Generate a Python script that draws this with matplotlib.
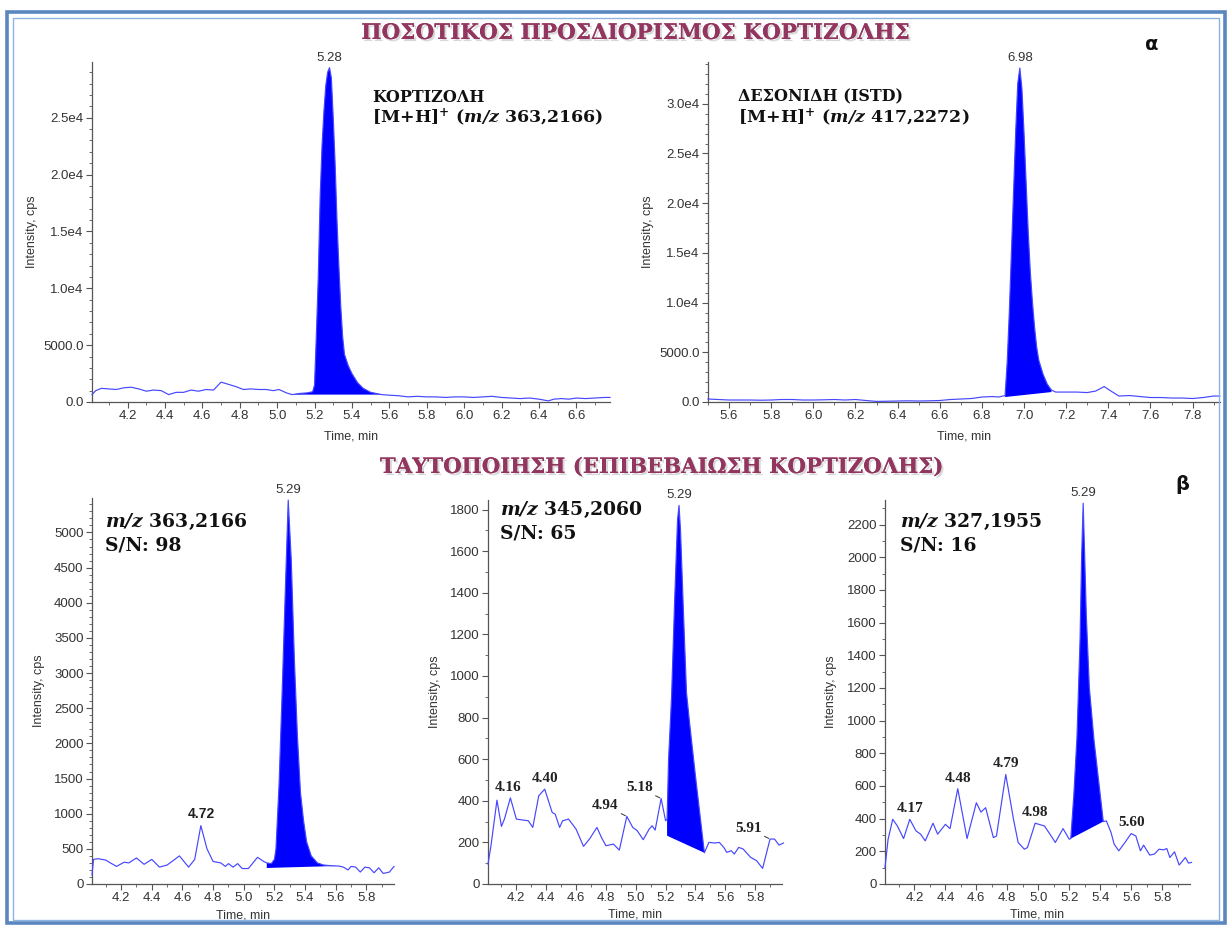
import numpy as np
import matplotlib
matplotlib.use("Agg")
import matplotlib.pyplot as plt
from matplotlib.ticker import MultipleLocator, FuncFormatter
from matplotlib.patches import Rectangle
import matplotlib.patheffects as pe

plt.rcParams['font.family'] = ['Liberation Sans', 'DejaVu Sans']
plt.rcParams['mathtext.fontset'] = 'dejavuserif'

# ---------------- data ----------------
# (a) top-left: cortisol m/z 363,2166
tl_time = [4.01, 4.03, 4.06, 4.10, 4.14, 4.18, 4.22, 4.26, 4.30, 4.34, 4.38, 4.42, 4.46, 4.50,
           4.54, 4.58, 4.62, 4.66, 4.70, 4.74, 4.78, 4.82, 4.86, 4.90, 4.94, 4.98, 5.01, 5.05,
           5.08, 5.12, 5.16, 5.19, 5.20, 5.21, 5.22, 5.23, 5.24, 5.25, 5.26, 5.27, 5.28, 5.29,
           5.30, 5.31, 5.32, 5.33, 5.34, 5.35, 5.36, 5.38, 5.40, 5.43, 5.46, 5.50, 5.56, 5.60,
           5.65, 5.70, 5.75, 5.80, 5.85, 5.90, 5.95, 6.00, 6.05, 6.10, 6.15, 6.20, 6.25, 6.30,
           6.35, 6.40, 6.45, 6.48, 6.52, 6.56, 6.60, 6.65, 6.70, 6.75, 6.78]
tl_int = [650, 1000, 1200, 1150, 1100, 1250, 1300, 1150, 950, 1050, 1000, 650, 850, 850,
          1050, 950, 1100, 1050, 1750, 1550, 1350, 1100, 1150, 1100, 1100, 1000, 1100, 800,
          650, 750, 800, 900, 1500, 6000, 11000, 18000, 22500, 25500, 27800, 29000, 29400, 28500,
          25000, 21000, 16000, 12000, 8500, 5800, 4200, 3200, 2500, 1700, 1200, 850, 650, 600,
          550, 450, 500, 450, 450, 400, 450, 450, 400, 450, 500, 400, 350, 300,
          350, 250, 100, 250, 300, 250, 350, 300, 350, 400, 400]

# (a) top-right: desonide ISTD m/z 417,2272
tr_time = [5.50, 5.55, 5.60, 5.65, 5.70, 5.75, 5.80, 5.85, 5.90, 5.95, 6.00, 6.05, 6.10, 6.15,
           6.20, 6.25, 6.30, 6.35, 6.40, 6.45, 6.50, 6.55, 6.60, 6.65, 6.70, 6.75, 6.80, 6.85,
           6.88, 6.91, 6.92, 6.93, 6.94, 6.95, 6.96, 6.97, 6.98, 6.99, 7.00, 7.01, 7.02, 7.03,
           7.04, 7.05, 7.06, 7.07, 7.09, 7.11, 7.13, 7.15, 7.20, 7.25, 7.30, 7.34, 7.38, 7.42,
           7.45, 7.50, 7.55, 7.60, 7.65, 7.70, 7.75, 7.80, 7.85, 7.90, 7.93]
tr_int = [300, 250, 200, 200, 200, 180, 200, 250, 250, 200, 200, 220, 250, 200,
          250, 150, 60, 80, 100, 120, 100, 120, 150, 250, 300, 350, 500, 550,
          500, 650, 4000, 9000, 15000, 21000, 27000, 32000, 33600, 31500, 27000, 22000, 17000, 13000,
          10000, 7500, 5500, 4200, 2800, 1800, 1200, 1000, 1000, 1000, 950, 1100, 1550, 1000,
          600, 650, 550, 450, 450, 400, 400, 350, 450, 600, 600]

# (b) bottom-left: m/z 363,2166
bl_time = [4.01, 4.02, 4.05, 4.10, 4.13, 4.17, 4.22, 4.25, 4.30, 4.35, 4.40, 4.45, 4.50, 4.55,
           4.58, 4.64, 4.68, 4.72, 4.76, 4.80, 4.85, 4.88, 4.90, 4.93, 4.96, 4.99, 5.03, 5.06,
           5.09, 5.13, 5.15, 5.18, 5.20, 5.21, 5.23, 5.25, 5.27, 5.29, 5.31, 5.33, 5.35, 5.37,
           5.39, 5.41, 5.44, 5.48, 5.52, 5.57, 5.62, 5.65, 5.68, 5.70, 5.73, 5.76, 5.79, 5.82,
           5.85, 5.88, 5.91, 5.95, 5.98]
bl_int = [130, 350, 360, 340, 300, 250, 310, 300, 370, 280, 350, 240, 270, 350,
          400, 240, 350, 830, 500, 320, 300, 250, 290, 240, 290, 220, 220, 300,
          380, 320, 300, 290, 350, 500, 1400, 2700, 4100, 5460, 4600, 3200, 2100, 1300,
          900, 600, 400, 300, 270, 260, 255, 240, 200, 250, 240, 170, 240, 230,
          160, 230, 150, 170, 250]

# (b) bottom-middle: m/z 345,2060
bm_time = [4.01, 4.03, 4.07, 4.10, 4.12, 4.16, 4.20, 4.25, 4.28, 4.31, 4.35, 4.39, 4.44, 4.46,
           4.49, 4.51, 4.55, 4.60, 4.65, 4.69, 4.74, 4.77, 4.80, 4.85, 4.89, 4.94, 4.98, 5.01,
           5.05, 5.09, 5.11, 5.13, 5.17, 5.20, 5.21, 5.22, 5.24, 5.26, 5.28, 5.29, 5.30, 5.32,
           5.34, 5.36, 5.40, 5.46, 5.49, 5.53, 5.56, 5.59, 5.61, 5.64, 5.66, 5.69, 5.72, 5.77,
           5.81, 5.85, 5.90, 5.93, 5.96, 5.99]
bm_int = [96, 184, 403, 277, 312, 414, 312, 307, 304, 272, 424, 456, 344, 336,
          272, 304, 312, 264, 181, 216, 272, 224, 184, 192, 163, 325, 272, 256,
          213, 264, 280, 259, 411, 304, 312, 600, 900, 1350, 1750, 1820, 1700, 1300,
          920, 780, 520, 150, 200, 197, 200, 176, 152, 160, 144, 176, 168, 128,
          112, 75, 216, 216, 187, 197]

# (b) bottom-right: m/z 327,1955
br_time = [4.01, 4.03, 4.06, 4.09, 4.13, 4.17, 4.21, 4.24, 4.27, 4.32, 4.35, 4.40, 4.43, 4.48,
           4.54, 4.60, 4.63, 4.66, 4.71, 4.73, 4.79, 4.84, 4.87, 4.91, 4.93, 4.98, 5.04, 5.09,
           5.11, 5.16, 5.20, 5.21, 5.23, 5.25, 5.27, 5.28, 5.29, 5.30, 5.31, 5.33, 5.36, 5.42,
           5.44, 5.47, 5.49, 5.52, 5.56, 5.60, 5.63, 5.66, 5.68, 5.72, 5.75, 5.78, 5.81, 5.83,
           5.85, 5.88, 5.91, 5.95, 5.97, 5.99]
br_int = [100, 274, 396, 355, 278, 396, 325, 305, 264, 372, 305, 365, 339, 583,
          278, 497, 440, 467, 284, 294, 670, 396, 254, 213, 223, 372, 355, 284,
          254, 339, 274, 278, 550, 900, 1500, 2000, 2330, 2000, 1650, 1200, 880, 382,
          386, 315, 244, 203, 254, 309, 294, 203, 238, 177, 183, 213, 209, 217,
          162, 197, 116, 162, 128, 132]

# integrated peak: (start, end, baseline at start, baseline at end)
tl_fill = [5.08, 5.56, 650, 650]
tr_fill = [6.91, 7.13, 500, 1000]
bl_fill = [5.15, 5.62, 228, 257]
bm_fill = [5.21, 5.46, 232, 150]
br_fill = [5.21, 5.42, 278, 382]

# ---------------- style ----------------
W, H = 1228, 925
fig = plt.figure(figsize=(W / 100, H / 100), dpi=100)
fig.patch.set_facecolor('white')

LINE = '#4646ff'
FILL = '#0000ff'
AXC = '#555555'
TXT = '#333333'
TITLE_C = '#93365f'


def px_axes(left, right, top, bottom):
    return fig.add_axes([left / W, (H - bottom) / H, (right - left) / W, (bottom - top) / H])


def style_axes(ax, xlim, ylim, xmaj, xmin_, ymaj, ymin_, yfmt, ylab_x, xlab_y):
    ax.set_xlim(*xlim)
    ax.set_ylim(*ylim)
    for s in ['top', 'right']:
        ax.spines[s].set_visible(False)
    for s in ['left', 'bottom']:
        ax.spines[s].set_color(AXC)
        ax.spines[s].set_linewidth(0.9)
    ax.xaxis.set_major_locator(MultipleLocator(xmaj))
    ax.xaxis.set_minor_locator(MultipleLocator(xmin_))
    ax.yaxis.set_major_locator(MultipleLocator(ymaj))
    ax.yaxis.set_minor_locator(MultipleLocator(ymin_))
    ax.xaxis.set_major_formatter(FuncFormatter(lambda v, p: f"{v:.1f}"))
    ax.yaxis.set_major_formatter(FuncFormatter(yfmt))
    ax.tick_params(which='major', length=4, width=0.8, color=AXC, labelsize=9.5,
                   labelcolor=TXT, pad=2)
    ax.tick_params(which='minor', length=2, width=0.6, color=AXC)
    ax.set_ylabel("Intensity, cps", fontsize=9, color=TXT)
    ax.yaxis.set_label_coords(ylab_x, 0.5)
    ax.set_xlabel("Time, min", fontsize=9, color=TXT)
    ax.xaxis.set_label_coords(0.5, xlab_y)
    ax.patch.set_alpha(0)


def fmt_e4(v, p):
    if abs(v) < 1e-9:
        return "0.0"
    if v < 1e4:
        return f"{v:.1f}"
    return f"{v / 1e4:.1f}e4"


def fmt_int(v, p):
    return f"{v:.0f}"


def draw_trace(ax, t, y, fill):
    t = np.asarray(t)
    y = np.asarray(y)
    ax.plot(t, y, color=LINE, lw=0.85, zorder=3, clip_on=False)
    s, e, b0, b1 = fill
    m = (t >= s - 1e-9) & (t <= e + 1e-9)
    px = list(t[m]) + [e, s]
    py = list(y[m]) + [b1, b0]
    ax.fill(px, py, color=FILL, lw=0, zorder=2)


def top_label(ax, x, y, s, dy=3):
    ax.annotate(s, (x, y), xytext=(0, dy), textcoords='offset points', ha='center',
                va='bottom', fontsize=9.5, color=TXT, annotation_clip=False)


def serif_label(ax, x, y, s, dy=3):
    ax.annotate(s, (x, y), xytext=(0, dy), textcoords='offset points', ha='center',
                va='bottom', fontsize=11, color='#222222', fontweight='bold',
                family='Liberation Serif', annotation_clip=False)


def lead_label(ax, x, y, s, dx, dy):
    ax.annotate(s, (x, y), xytext=(dx, dy), textcoords='offset points', ha='right',
                va='bottom', fontsize=11, color='#222222', fontweight='bold',
                family='Liberation Serif', annotation_clip=False,
                arrowprops=dict(arrowstyle='-', lw=0.7, color='#333333',
                                shrinkA=0, shrinkB=1))


# ---------------- frame ----------------
fig.patches.append(Rectangle((7 / W, 2 / H), (1225 - 7) / W, (923 - 12) / H, transform=fig.transFigure,
                             fill=False, ec='#5b87c0', lw=2.6, zorder=0))
fig.patches.append(Rectangle((13 / W, 5 / H), (1219 - 13) / W, (920 - 18) / H, transform=fig.transFigure,
                             fill=False, ec='#8fb3df', lw=1.0, zorder=0))

# ---------------- titles ----------------
shadow = [pe.withSimplePatchShadow(offset=(1.5, -1.5), shadow_rgbFace='#aaaaaa', alpha=0.45), pe.Normal()]
fig.text(635 / W, 1 - 33 / H, "ΠΟΣΟΤΙΚΟΣ ΠΡΟΣΔΙΟΡΙΣΜΟΣ ΚΟΡΤΙΖΟΛΗΣ", ha='center', va='center',
         fontsize=15.5, fontweight='bold', family='DejaVu Serif', color=TITLE_C, path_effects=shadow)
fig.text(662 / W, 1 - 467 / H, "ΤΑΥΤΟΠΟΙΗΣΗ (ΕΠΙΒΕΒΑΙΩΣΗ ΚΟΡΤΙΖΟΛΗΣ)", ha='center', va='center',
         fontsize=15.3, fontweight='bold', family='DejaVu Serif', color=TITLE_C, path_effects=shadow)
fig.text(1152 / W, 1 - 45 / H, "α", ha='center', va='center', fontsize=14, fontweight='bold',
         family='DejaVu Sans', color='#111111')
fig.text(1182 / W, 1 - 484 / H, "β", ha='center', va='center', fontsize=14, fontweight='bold',
         family='DejaVu Sans', color='#111111')

# ---------------- top-left ----------------
ax1 = px_axes(92, 610, 62, 402)
style_axes(ax1, (4.01, 6.78), (0, 29900), 0.2, 0.1, 5000, 1000, fmt_e4, -0.105, -0.085)
draw_trace(ax1, tl_time, tl_int, tl_fill)
top_label(ax1, 5.28, 29400, "5.28")
ax1.text(372 / W, 1 - 97 / H, "ΚΟΡΤΙΖΟΛΗ", transform=fig.transFigure, ha='left', va='center',
         fontsize=11.5, fontweight='bold', family='DejaVu Serif', color='#111111')
ax1.text(372 / W, 1 - 117 / H, r"[M+H]$^{\mathbf{+}}$ ($\mathbfit{m/z}$ 363,2166)", transform=fig.transFigure,
         ha='left', va='center', fontsize=12.5, fontweight='bold', family='DejaVu Serif', color='#111111')

# ---------------- top-right ----------------
ax2 = px_axes(708, 1220, 62, 402)
style_axes(ax2, (5.5, 7.93), (0, 34200), 0.2, 0.1, 5000, 1000, fmt_e4, -0.105, -0.085)
draw_trace(ax2, tr_time, tr_int, tr_fill)
top_label(ax2, 6.98, 33600, "6.98")
ax2.text(738 / W, 1 - 97 / H, "ΔΕΣΟΝΙΔΗ (ISTD)", transform=fig.transFigure, ha='left', va='center',
         fontsize=11.5, fontweight='bold', family='DejaVu Serif', color='#111111')
ax2.text(738 / W, 1 - 117 / H, r"[M+H]$^{\mathbf{+}}$ ($\mathbfit{m/z}$ 417,2272)", transform=fig.transFigure,
         ha='left', va='center', fontsize=12.5, fontweight='bold', family='DejaVu Serif', color='#111111')

# ---------------- bottom-left ----------------
ax3 = px_axes(92, 394, 498, 884)
style_axes(ax3, (4.01, 5.98), (0, 5490), 0.2, 0.1, 500, 100, fmt_int, -0.155, -0.065)
draw_trace(ax3, bl_time, bl_int, bl_fill)
top_label(ax3, 5.29, 5460, "5.29")
ax3.annotate("4.72", (4.72, 830), xytext=(0, 3), textcoords='offset points', ha='center', va='bottom',
             fontsize=10, fontweight='bold', color='#222222')
ax3.text(105 / W, 1 - 522 / H, r"$\mathbfit{m/z}$ 363,2166", transform=fig.transFigure, ha='left',
         va='center', fontsize=13.5, fontweight='bold', family='DejaVu Serif', color='#111111')
ax3.text(105 / W, 1 - 546 / H, "S/N: 98", transform=fig.transFigure, ha='left',
         va='center', fontsize=13.5, fontweight='bold', family='DejaVu Serif', color='#111111')

# ---------------- bottom-middle ----------------
ax4 = px_axes(488, 782, 500, 884)
style_axes(ax4, (4.01, 5.98), (0, 1846), 0.2, 0.1, 200, 100, fmt_int, -0.16, -0.065)
draw_trace(ax4, bm_time, bm_int, bm_fill)
top_label(ax4, 5.29, 1820, "5.29")
serif_label(ax4, 4.145, 414, "4.16")
serif_label(ax4, 4.39, 456, "4.40")
lead_label(ax4, 4.94, 325, "4.94", -6, 3)
lead_label(ax4, 5.17, 411, "5.18", -6, 3)
lead_label(ax4, 5.90, 216, "5.91", -6, 3)
ax4.text(500 / W, 1 - 510 / H, r"$\mathbfit{m/z}$ 345,2060", transform=fig.transFigure, ha='left',
         va='center', fontsize=13.5, fontweight='bold', family='DejaVu Serif', color='#111111')
ax4.text(500 / W, 1 - 534 / H, "S/N: 65", transform=fig.transFigure, ha='left',
         va='center', fontsize=13.5, fontweight='bold', family='DejaVu Serif', color='#111111')

# ---------------- bottom-right ----------------
ax5 = px_axes(885, 1190, 500, 884)
style_axes(ax5, (4.01, 5.98), (0, 2350), 0.2, 0.1, 200, 100, fmt_int, -0.157, -0.065)
draw_trace(ax5, br_time, br_int, br_fill)
top_label(ax5, 5.29, 2330, "5.29")
serif_label(ax5, 4.17, 396, "4.17")
serif_label(ax5, 4.48, 583, "4.48")
serif_label(ax5, 4.79, 670, "4.79")
serif_label(ax5, 4.98, 372, "4.98")
serif_label(ax5, 5.60, 309, "5.60")
ax5.text(900 / W, 1 - 522 / H, r"$\mathbfit{m/z}$ 327,1955", transform=fig.transFigure, ha='left',
         va='center', fontsize=13.5, fontweight='bold', family='DejaVu Serif', color='#111111')
ax5.text(900 / W, 1 - 546 / H, "S/N: 16", transform=fig.transFigure, ha='left',
         va='center', fontsize=13.5, fontweight='bold', family='DejaVu Serif', color='#111111')

fig.savefig("out.png", dpi=100)
